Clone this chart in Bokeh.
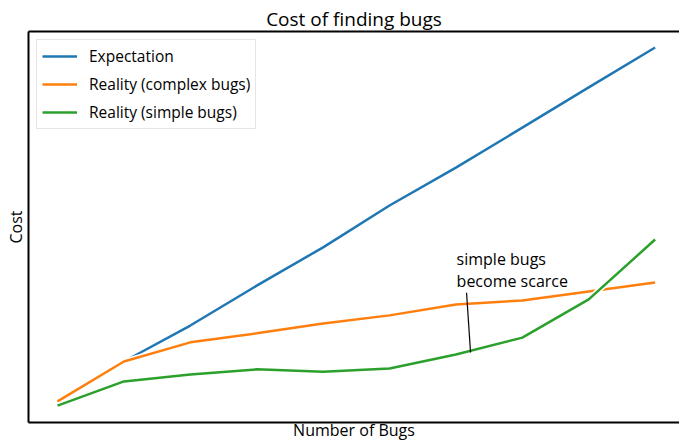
from bokeh.plotting import figure
from bokeh.models import Range1d, LinearAxis, Label, Segment, ColumnDataSource, FixedTicker
from bokeh.embed import file_html
from bokeh.resources import INLINE

# ---- data ----
bugs = [0, 1, 2, 3, 4, 5, 6, 7, 8, 9]
expectation = [5.4, 15.6, 24.8, 35.0, 44.8, 55.5, 65.2, 75.4, 85.7, 95.9]
reality_complex = [5.4, 15.6, 20.5, 22.8, 25.3, 27.4, 30.2, 31.2, 33.5, 35.8]
reality_simple = [4.3, 10.5, 12.3, 13.6, 13.0, 13.8, 17.4, 21.7, 31.5, 46.8]
series_names = ["Expectation", "Reality (complex bugs)", "Reality (simple bugs)"]
series_colors = ["#1f77b4", "#ff7f0e", "#2ca02c"]

title_text = "Cost of finding bugs"
xlabel_text = "Number of Bugs"
ylabel_text = "Cost"
note_text = "simple bugs\nbecome scarce"
note_pos = (6.01, 44.6)
arrow_from = (6.16, 33.2)
arrow_to = (6.22, 17.9)

FONT = "Open Sans"

p = figure(width=679, height=444, output_backend="svg", toolbar_location=None,
           x_range=Range1d(-0.437, 9.367), y_range=Range1d(0, 100),
           min_border_left=28, min_border_right=0, min_border_top=31, min_border_bottom=22)
p.outline_line_color = None
p.grid.visible = False
p.background_fill_color = "white"
p.border_fill_color = "white"

p.title.text = title_text
p.title.align = "center"
p.title.text_font = FONT
p.title.text_font_size = "19px"
p.title.text_font_style = "normal"
p.title.text_color = "black"
p.title.standoff = 0

top_axis = LinearAxis()
p.add_layout(top_axis, "above")
bottom_axis = p.below[0]
left_axis = p.left[0]
for ax in [top_axis, bottom_axis, left_axis]:
    ax.ticker = FixedTicker(ticks=[])
    ax.axis_line_width = 2
    ax.axis_line_color = "black"
    ax.major_tick_line_color = None
    ax.minor_tick_line_color = None
    ax.major_label_standoff = 0
    ax.axis_label_text_font = FONT
    ax.axis_label_text_font_size = "16px"
    ax.axis_label_text_font_style = "normal"
    ax.axis_label_text_color = "black"

bottom_axis.axis_label = xlabel_text
bottom_axis.axis_label_standoff = -4
left_axis.axis_label = ylabel_text
left_axis.axis_label_standoff = 2

for vals, name, col in zip([expectation, reality_complex, reality_simple], series_names, series_colors):
    p.line(bugs, vals, line_color="white", line_width=5.5)
    p.line(bugs, vals, line_color=col, line_width=2.5, legend_label=name)

# annotation
src = ColumnDataSource(dict(x0=[arrow_from[0]], y0=[arrow_from[1]], x1=[arrow_to[0]], y1=[arrow_to[1]]))
p.add_glyph(src, Segment(x0="x0", y0="y0", x1="x1", y1="y1", line_color="black", line_width=1.2))
p.add_layout(Label(x=note_pos[0], y=note_pos[1], text=note_text, text_font=FONT,
                   text_font_size="16px", text_baseline="top", text_align="left",
                   text_color="black", text_line_height=1.0))

lg = p.legend[0]
lg.location = "top_left"
lg.margin = 8
lg.padding = 5
lg.spacing = 6
lg.glyph_width = 35
lg.glyph_height = 20
lg.label_height = 20
lg.label_standoff = 12
lg.label_text_font = FONT
lg.label_text_font_size = "15.5px"
lg.label_text_color = "black"
lg.border_line_color = "#cccccc"
lg.border_line_width = 1
lg.background_fill_alpha = 0.8

open("out.html", "w").write(file_html(p, INLINE))
